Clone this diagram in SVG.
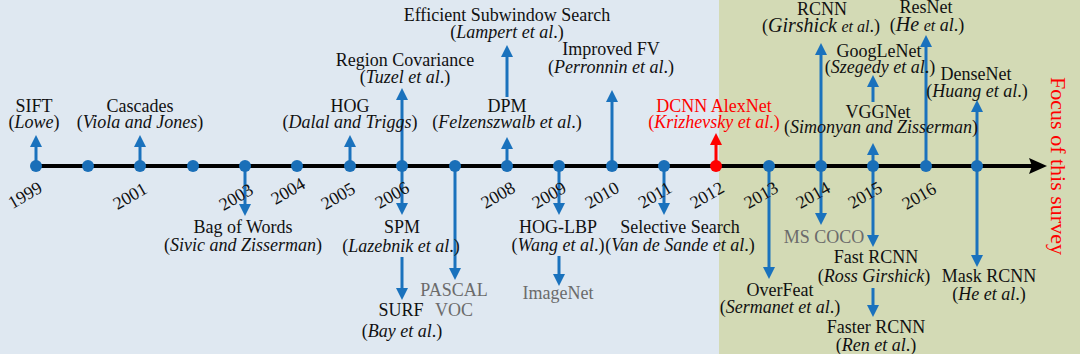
<svg xmlns="http://www.w3.org/2000/svg" width="1080" height="354" viewBox="0 0 1080 354">
<style>
.t{font-family:"Liberation Serif","Times New Roman",serif;font-size:18px;fill:#111;text-anchor:middle}
.i{font-style:italic}
.b{font-size:20px}
.s{font-size:16px}
.g{fill:#6b6b6b}
.r{fill:#ff0000}
.yr{font-family:"Liberation Serif","Times New Roman",serif;font-size:18px;fill:#111;text-anchor:middle}
.ar{stroke:#1a72bd;stroke-width:3;fill:none}
.arr{stroke:#ff0000;stroke-width:3;fill:none}
.dot{fill:#1a6fb8}
</style>
<defs>
<marker id="hb" viewBox="0 0 12 12" refX="2" refY="6" markerWidth="12" markerHeight="12" markerUnits="userSpaceOnUse" orient="auto"><path d="M0,0 L12,6 L0,12 z" fill="#1a72bd"/></marker>
<marker id="hr" viewBox="0 0 12 12" refX="2" refY="6" markerWidth="12" markerHeight="12" markerUnits="userSpaceOnUse" orient="auto"><path d="M0,0 L12,6 L0,12 z" fill="#ff0000"/></marker>
<marker id="hk" viewBox="0 0 18 18" refX="3" refY="9" markerWidth="18" markerHeight="18" markerUnits="userSpaceOnUse" orient="auto"><path d="M0,1 L18,9 L0,17 L3,9 z" fill="#000"/></marker>
</defs>
<rect x="0" y="0" width="720" height="354" fill="#dfe8f1"/>
<rect x="719" y="0" width="361" height="354" fill="#d3dab5"/>

<g id="connectors">
<line x1="36" y1="166" x2="1032" y2="166" stroke="#000" stroke-width="4" marker-end="url(#hk)"/>
<line class="ar" x1="36" y1="166" x2="36" y2="145" marker-end="url(#hb)"/>
<line class="ar" x1="140" y1="166" x2="140" y2="145" marker-end="url(#hb)"/>
<line class="ar" x1="350" y1="166" x2="350" y2="145" marker-end="url(#hb)"/>
<line class="ar" x1="402" y1="166" x2="402" y2="98" marker-end="url(#hb)"/>
<line class="ar" x1="507" y1="97" x2="507" y2="55" marker-end="url(#hb)"/>
<line class="ar" x1="507" y1="166" x2="507" y2="147" marker-end="url(#hb)"/>
<line class="ar" x1="612" y1="166" x2="612" y2="100" marker-end="url(#hb)"/>
<line class="arr" x1="716" y1="166" x2="716" y2="143" marker-end="url(#hr)"/>
<line class="ar" x1="821" y1="166" x2="821" y2="53" marker-end="url(#hb)"/>
<line class="ar" x1="873" y1="102" x2="873" y2="85" marker-end="url(#hb)"/>
<line class="ar" x1="873" y1="166" x2="873" y2="153" marker-end="url(#hb)"/>
<line class="ar" x1="926" y1="166" x2="926" y2="45" marker-end="url(#hb)"/>
<line class="ar" x1="977" y1="166" x2="977" y2="110" marker-end="url(#hb)"/>
<line class="ar" x1="245" y1="166" x2="245" y2="206" marker-end="url(#hb)"/>
<line class="ar" x1="402" y1="166" x2="402" y2="205" marker-end="url(#hb)"/>
<line class="ar" x1="402" y1="257" x2="402" y2="290" marker-end="url(#hb)"/>
<line class="ar" x1="455" y1="166" x2="455" y2="270" marker-end="url(#hb)"/>
<line class="ar" x1="559" y1="166" x2="559" y2="205" marker-end="url(#hb)"/>
<line class="ar" x1="559" y1="256" x2="559" y2="276" marker-end="url(#hb)"/>
<line class="ar" x1="664" y1="166" x2="664" y2="205" marker-end="url(#hb)"/>
<line class="ar" x1="769" y1="166" x2="769" y2="269" marker-end="url(#hb)"/>
<line class="ar" x1="821" y1="166" x2="821" y2="215" marker-end="url(#hb)"/>
<line class="ar" x1="873" y1="166" x2="873" y2="237" marker-end="url(#hb)"/>
<line class="ar" x1="873" y1="288" x2="873" y2="307" marker-end="url(#hb)"/>
<line class="ar" x1="977" y1="166" x2="977" y2="257" marker-end="url(#hb)"/>
</g>

<g id="timeline-dots">
<circle class="dot" cx="36" cy="166" r="6"/>
<circle class="dot" cx="88" cy="166" r="6"/>
<circle class="dot" cx="140" cy="166" r="6"/>
<circle class="dot" cx="193" cy="166" r="6"/>
<circle class="dot" cx="245" cy="166" r="6"/>
<circle class="dot" cx="297" cy="166" r="6"/>
<circle class="dot" cx="350" cy="166" r="6"/>
<circle class="dot" cx="402" cy="166" r="6"/>
<circle class="dot" cx="455" cy="166" r="6"/>
<circle class="dot" cx="507" cy="166" r="6"/>
<circle class="dot" cx="559" cy="166" r="6"/>
<circle class="dot" cx="612" cy="166" r="6"/>
<circle class="dot" cx="664" cy="166" r="6"/>
<circle cx="716" cy="166" r="6" fill="#ff0000"/>
<circle class="dot" cx="769" cy="166" r="6"/>
<circle class="dot" cx="821" cy="166" r="6"/>
<circle class="dot" cx="873" cy="166" r="6"/>
<circle class="dot" cx="926" cy="166" r="6"/>
<circle class="dot" cx="977" cy="166" r="6"/>
</g>

<g id="years">
<text class="yr" transform="translate(25,195) rotate(-30)" y="6">1999</text>
<text class="yr" transform="translate(130,196) rotate(-30)" y="6">2001</text>
<text class="yr" transform="translate(236,197) rotate(-30)" y="6">2003</text>
<text class="yr" transform="translate(288,191) rotate(-30)" y="6">2004</text>
<text class="yr" transform="translate(338,196) rotate(-30)" y="6">2005</text>
<text class="yr" transform="translate(392,195) rotate(-30)" y="6">2006</text>
<text class="yr" transform="translate(498,195) rotate(-30)" y="6">2008</text>
<text class="yr" transform="translate(549,195) rotate(-30)" y="6">2009</text>
<text class="yr" transform="translate(602,195) rotate(-30)" y="6">2010</text>
<text class="yr" transform="translate(655,195) rotate(-30)" y="6">2011</text>
<text class="yr r" transform="translate(707,195) rotate(-30)" y="6">2012</text>
<text class="yr" transform="translate(761,195) rotate(-30)" y="6">2013</text>
<text class="yr" transform="translate(813,195) rotate(-30)" y="6">2014</text>
<text class="yr" transform="translate(865,195) rotate(-30)" y="6">2015</text>
<text class="yr" transform="translate(919,196) rotate(-30)" y="6">2016</text>
</g>

<g id="n-sift"><text class="t" x="34" y="112">SIFT</text><text class="t" x="34" y="128">(<tspan class="i">Lowe</tspan>)</text></g>
<g id="n-cascades"><text class="t" x="140" y="112">Cascades</text><text class="t" x="140" y="128">(<tspan class="i">Viola and Jones</tspan>)</text></g>
<g id="n-hog"><text class="t" x="350" y="112">HOG</text><text class="t" x="350" y="128">(<tspan class="i">Dalal and Triggs</tspan>)</text></g>
<g id="n-regcov"><text class="t" x="405" y="66">Region Covariance</text><text class="t" x="405" y="83">(<tspan class="i">Tuzel et al</tspan>.)</text></g>
<g id="n-ess"><text class="t" x="507" y="21">Efficient Subwindow Search</text><text class="t" x="507" y="38">(<tspan class="i">Lampert et al</tspan>.)</text></g>
<g id="n-dpm"><text class="t" x="507" y="112">DPM</text><text class="t" x="507" y="128">(<tspan class="i">Felzenszwalb et al</tspan>.)</text></g>
<g id="n-ifv"><text class="t" x="611" y="55">Improved FV</text><text class="t" x="611" y="73">(<tspan class="i">Perronnin et al</tspan>.)</text></g>
<g id="n-dcnn"><text class="t r" x="714" y="112">DCNN AlexNet</text><text class="t r" x="714" y="128">(<tspan class="i">Krizhevsky et al</tspan>.)</text></g>
<g id="n-rcnn"><text class="t" x="822" y="15">RCNN</text><text class="t" x="821" y="32">(<tspan class="i b">Girshick</tspan> <tspan class="i s">et al</tspan>.)</text></g>
<g id="n-resnet"><text class="t" x="926" y="13">ResNet</text><text class="t" x="927" y="31">(<tspan class="i b">He</tspan> <tspan class="i s">et</tspan> <tspan class="i">al</tspan>.)</text></g>
<g id="n-googlenet"><text class="t" x="879" y="57">GoogLeNet</text><text class="t" x="880" y="73">(<tspan class="i">Szegedy et al</tspan>.)</text></g>
<g id="n-vggnet"><text class="t" x="878" y="118">VGGNet</text><text class="t" x="881" y="133">(<tspan class="i">Simonyan and Zisserman</tspan>)</text></g>
<g id="n-densenet"><text class="t" x="976" y="80">DenseNet</text><text class="t" x="977" y="97">(<tspan class="i">Huang et al</tspan>.)</text></g>

<g id="n-bow"><text class="t" x="243" y="233">Bag of Words</text><text class="t" x="243" y="251">(<tspan class="i">Sivic and Zisserman</tspan>)</text></g>
<g id="n-spm"><text class="t" x="402" y="233">SPM</text><text class="t" x="401" y="252">(<tspan class="i">Lazebnik et al</tspan>.)</text></g>
<g id="n-surf"><text class="t" x="401" y="316">SURF</text><text class="t" x="402" y="337">(<tspan class="i">Bay et al</tspan>.)</text></g>
<g id="n-pascal"><text class="t g" x="454" y="296">PASCAL</text><text class="t g" x="454" y="316">VOC</text></g>
<g id="n-hoglbp"><text class="t" x="558" y="233">HOG-LBP</text><text class="t" x="558" y="251">(<tspan class="i">Wang et al</tspan>.)</text></g>
<g id="n-imagenet"><text class="t g" x="558" y="299">ImageNet</text></g>
<g id="n-selective"><text class="t" x="680" y="233">Selective Search</text><text class="t" x="680" y="251">(<tspan class="i">Van de Sande et al</tspan>.)</text></g>
<g id="n-overfeat"><text class="t" x="780" y="296">OverFeat</text><text class="t" x="780" y="313">(<tspan class="i">Sermanet et al</tspan>.)</text></g>
<g id="n-mscoco"><text class="t g" x="824" y="243">MS COCO</text></g>
<g id="n-fastrcnn"><text class="t" x="876" y="263">Fast RCNN</text><text class="t" x="874" y="282">(<tspan class="i">Ross Girshick</tspan>)</text></g>
<g id="n-fasterrcnn"><text class="t" x="876" y="333">Faster RCNN</text><text class="t" x="876" y="351">(<tspan class="i">Ren et al</tspan>.)</text></g>
<g id="n-maskrcnn"><text class="t" x="989" y="282">Mask RCNN</text><text class="t" x="989" y="300">(<tspan class="i">He et al</tspan>.)</text></g>

<g id="focus"><text class="t r" style="font-size:22px" transform="translate(1051,166) rotate(90)">Focus of this survey</text></g>
</svg>
